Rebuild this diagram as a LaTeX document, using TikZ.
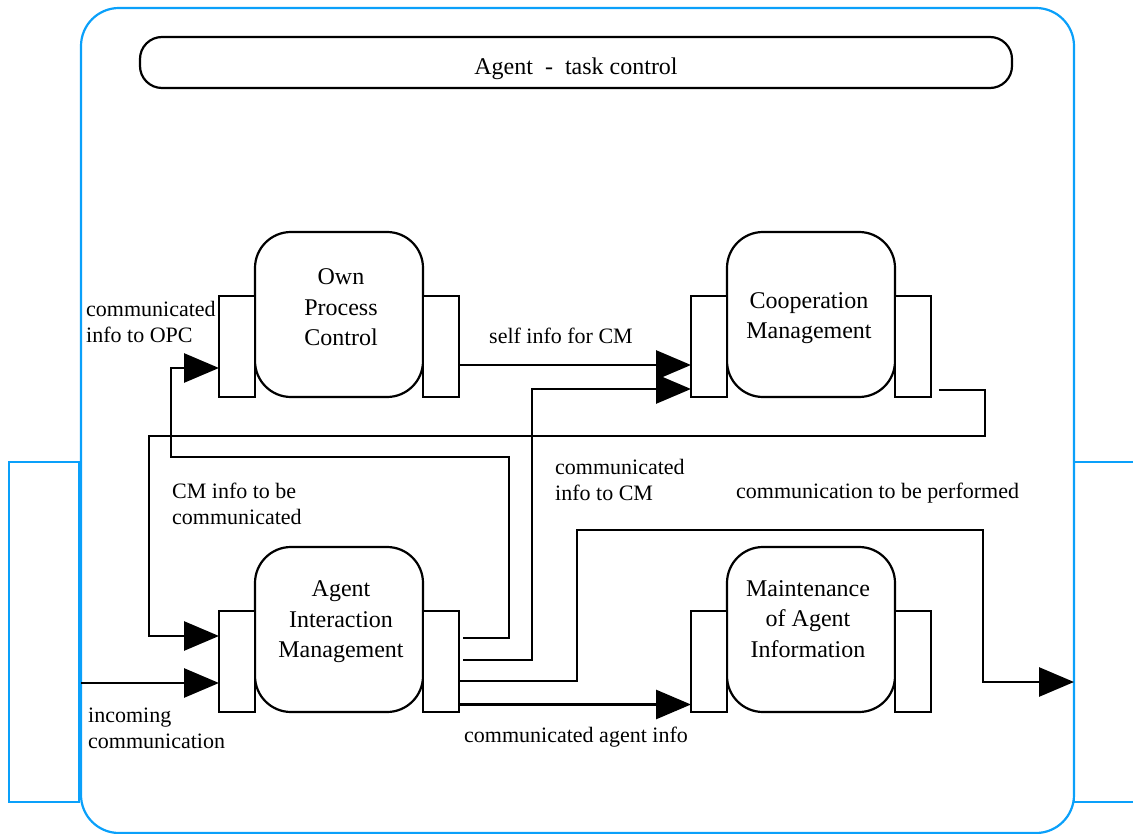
\documentclass[tikz,border=0pt]{standalone}
\usepackage{fontspec}
\setmainfont{Liberation Serif}
\usepackage{tikz}
\usetikzlibrary{arrows.meta, positioning, calc}
\definecolor{framecolor}{RGB}{10, 160, 250}

\begin{document}
\begin{tikzpicture}[x=1pt, y=-1pt,
    module/.style={draw, line width=2.2pt, rounded corners=36pt, minimum width=168pt, minimum height=165pt, inner sep=0pt, outer sep=0pt},
    port/.style={draw, fill=white, line width=2.2pt, minimum width=36pt, minimum height=101pt, inner sep=0pt, outer sep=0pt},
    side/.style={draw=framecolor, line width=2.2pt, minimum width=70pt, minimum height=340pt, inner sep=0pt, outer sep=0pt},
    modtext/.style={align=center, inner sep=0pt, font=\fontsize{24}{30.5}\selectfont},
    lbl/.style={align=left, anchor=west, inner sep=0pt, font=\fontsize{22}{26}\selectfont},
    flow/.style={line width=2.8pt, -{Triangle[length=35pt, width=29pt]}}]
        \useasboundingbox (0, 0) rectangle (1133, 834);

        % Agent frame and its interfaces
        \node[draw=framecolor, line width=2.2pt, rounded corners=38pt, minimum width=993pt, minimum height=825pt, inner sep=0pt] (agent) at (577.5, 420.5) {};
        \node[side] (inside) at (44, 632) {};
        \node[side] (outside) at (1109, 632) {};
        \coordinate (incoming) at (81, 683);
        \coordinate (outgoing) at (1074, 682);

        % Task control bar
        \node[draw, line width=2.2pt, rounded corners=22pt, minimum width=872pt, minimum height=51pt, text height=29pt, text depth=4pt, font=\fontsize{24}{29}\selectfont] (task) at (576, 62.5) {Agent \ - \ task control};

        % Components
        \node[module] (opc) at (339, 314.5) {};
        \node[port, anchor=south east] (opcin) at (opc.south west) {};
        \node[port, anchor=south west] (opcout) at (opc.south east) {};
        \node[modtext] (opctext) at (341, 307.5) {Own\\Process\\Control};

        \node[module] (cm) at (811, 314.5) {};
        \node[port, anchor=south east] (cmin) at (cm.south west) {};
        \node[port, anchor=south west] (cmout) at (cm.south east) {};
        \node[modtext] (cmtext) at (809, 318) {Cooperation\\Management};

        \node[module] (aim) at (339, 629.5) {};
        \node[port, anchor=south east] (aimin) at (aim.south west) {};
        \node[port, anchor=south west] (aimout) at (aim.south east) {};
        \node[modtext] (aimtext) at (341, 622) {Agent\\Interaction\\Management};

        \node[module] (mai) at (811, 629.5) {};
        \node[port, anchor=south east] (maiin) at (mai.south west) {};
        \node[port, anchor=south west] (maiout) at (mai.south east) {};
        \node[modtext] (maitext) at (808, 619) {Maintenance\\of Agent\\Information};

        % Information links
        \draw[flow] ([yshift=-18.5pt]opcout.east) -- ([yshift=-18.5pt]cmin.west);
        \draw[flow] ([xshift=4pt, yshift=1.5pt]aimout.east) -- ++(69, 0) |- ([yshift=-42.5pt]cmin.west);
        \draw[flow] ([xshift=4pt, yshift=23.5pt]aimout.east) -- ++(46, 0) -- ++(0, -181) -- ++(-338, 0) |- ([yshift=-21.5pt]opcin.west);
        \draw[flow] ([xshift=8pt, yshift=-43.5pt]cmout.east) -- ++(46, 0) -- ++(0, 46) -- ++(-836, 0) |- ([yshift=25.5pt]aimin.west);
        \draw[flow] (incoming) -- ([yshift=-21.5pt]aimin.west);
        \draw[flow] ([yshift=-19.5pt]aimout.east) -- ++(118, 0) -- ++(0, -151) -- ++(406, 0) |- (outgoing);
        \draw[flow] ([yshift=-43pt]aimout.east) -- ([yshift=-43pt]maiin.west);

        % Link labels
        \node[lbl] (lopc) at (86, 322) {communicated\\info to OPC};
        \node[lbl] (lself) at (489, 336) {self info for CM};
        \node[lbl] (lcmcomm) at (172, 503.5) {CM info to be\\communicated};
        \node[lbl] (lcomcm) at (555, 479.5) {communicated\\info to CM};
        \node[lbl] (lperf) at (736, 493) {communication to be performed};
        \node[lbl] (linc) at (88, 728.5) {incoming\\communication};
        \node[lbl] (lagent) at (464, 737) {communicated agent info};

    \end{tikzpicture}
\end{document}
